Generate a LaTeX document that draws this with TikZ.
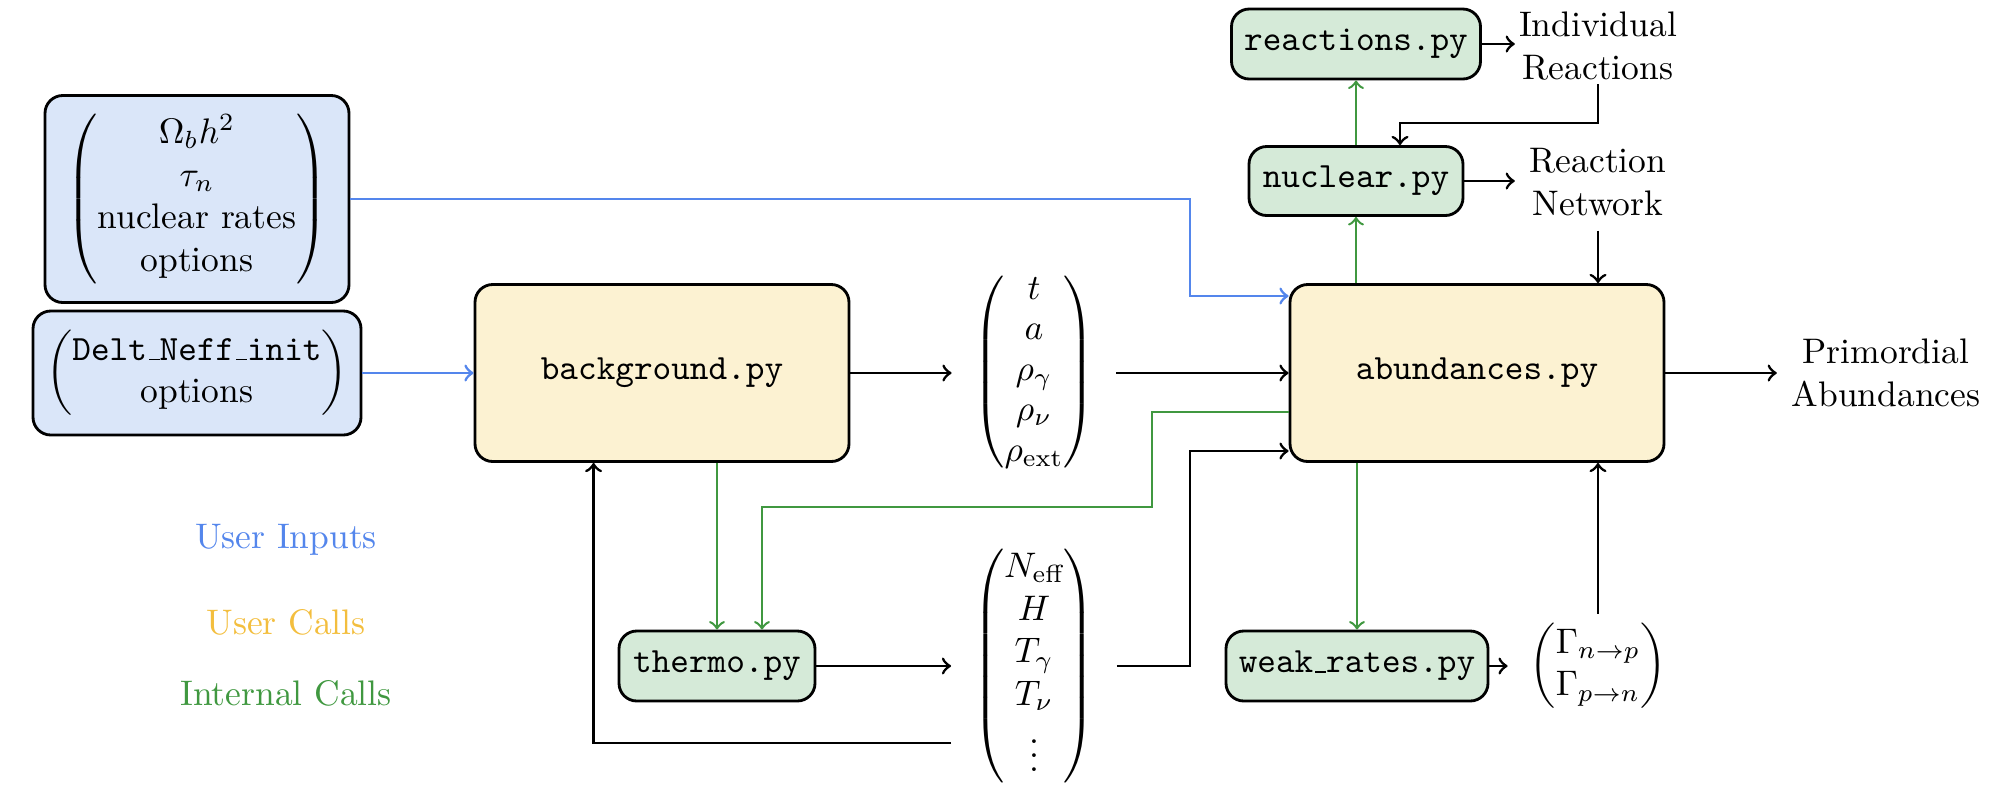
\documentclass[tikz,border=0pt]{standalone}
\usepackage{amsmath}
\usetikzlibrary{calc}
\definecolor{inblue}{RGB}{84,134,236}
\definecolor{infill}{RGB}{218,230,249}
\definecolor{callfill}{RGB}{252,242,210}
\definecolor{callorange}{RGB}{243,190,62}
\definecolor{intgreen}{RGB}{64,152,64}
\definecolor{intfill}{RGB}{213,234,216}
\def\pxu{0.2817pt}
\newcommand{\tus}{\kern.06em\vbox{\hrule width.3em}}
\begin{document}
\begin{tikzpicture}[x=\pxu,y=-\pxu,>=to,
  box/.style={draw=black, thick, rounded corners=5pt, align=center, inner sep=0pt},
  inbox/.style={box, fill=infill},
  callbox/.style={box, fill=callfill, font=\ttfamily},
  intbox/.style={box, fill=intfill, font=\ttfamily},
  vec/.style={inner sep=6pt},
  lbl/.style={align=center, inner sep=1pt},
  conn/.style={->, thick},
  bconn/.style={->, thick, draw=inblue},
  gconn/.style={->, line width=0.7pt, draw=intgreen}]
\useasboundingbox (0,0) rectangle (2008,790);

% input boxes
\node[inbox, minimum width=304*\pxu, minimum height=207*\pxu] (in1) at (197,199)
  {$\begin{pmatrix}\Omega_b h^2\\ \tau_n\\ \text{nuclear rates}\\ \text{options}\end{pmatrix}$};
\node[inbox, minimum width=328*\pxu, minimum height=124*\pxu] (in2) at (197,373)
  {$\begin{pmatrix}\texttt{Delt\tus Neff\tus init}\\ \text{options}\end{pmatrix}$};

% main calls
\node[callbox, minimum width=374*\pxu, minimum height=177*\pxu] (bg) at (662,373) {background.py};
\node[callbox, minimum width=374*\pxu, minimum height=177*\pxu] (ab) at (1477,373) {abundances.py};

% internal calls
\node[intbox, minimum width=196*\pxu, minimum height=70*\pxu] (th) at (717,666) {thermo.py};
\node[intbox, minimum width=262*\pxu, minimum height=70*\pxu] (wk) at (1357,666) {weak\tus rates.py};
\node[intbox, minimum width=214*\pxu, minimum height=69*\pxu] (nuc) at (1356,181) {nuclear.py};
\node[intbox, minimum width=249*\pxu, minimum height=70*\pxu] (rea) at (1356,44) {reactions.py};

% vectors
\node[vec] (v1) at (1034,372)
  {\renewcommand{\arraystretch}{0.95}$\begin{pmatrix} t\\ a\\ \rho_\gamma\\ \rho_\nu\\ \rho_{\text{ext}}\end{pmatrix}$};
\node[vec] (v2) at (1034,666)
  {$\begin{pmatrix} N_{\text{eff}}\\ H\\ T_\gamma\\ T_\nu\\ \vdots\end{pmatrix}$};
\node[inner xsep=6pt, inner ysep=2.5pt] (gam) at (1598,666)
  {$\begin{pmatrix}\Gamma_{n\to p}\\ \Gamma_{p\to n}\end{pmatrix}$};

% text outputs
\node[lbl] (ir) at (1598,46) {Individual\\Reactions};
\node[lbl, inner sep=4pt] (rn) at (1598,182) {Reaction\\Network};
\node[lbl, inner sep=4pt] (pa) at (1886,373) {Primordial\\Abundances};

% legend
\node[text=inblue] (l1) at (286,540) {User Inputs};
\node[text=callorange] (l2) at (286,622) {User Calls};
\node[text=intgreen] (l3) at (286,693) {Internal Calls};

% helper coordinates
\coordinate (abB) at ($(ab.west)+(0,-77)$);
\coordinate (abK) at ($(ab.west)+(0,78)$);
\coordinate (abG) at ($(ab.west)+(0,39)$);
\coordinate (bx) at (1190,296);
\coordinate (kx) at (1190,666);
\coordinate (gx) at (1152,507);
\coordinate (thG) at ($(th.north)+(45,0)$);
\coordinate (ret) at ($(v2.west)+(0,77)$);
\coordinate (bgR) at ($(bg.south west)+(120,0)$);
\coordinate (irb) at (1598,123);
\coordinate (nucI) at ($(nuc.north)+(44,0)$);

% blue connectors
\draw[bconn] (in1.east) -| (bx) -- (abB);
\draw[bconn] (in2.east) -- (bg.west);

% black connectors
\draw[conn] (bg.east) -- (bg.east -| v1.west);
\draw[conn] (bg.east -| v1.east) -- (ab.west);
\draw[conn] (th.east) -- (v2.west);
\draw[conn] (v2.east) -- (kx) |- (abK);
\draw[conn] (ret) -| (bgR);
\draw[conn] (ab.east) -- (ab.east -| pa.west);
\draw[conn] (wk.east) -- (gam.west);
\draw[conn] (gam.north) -- (gam.north |- ab.south);
\draw[conn] (rea.east) -- (rea.east -| ir.west);
\draw[conn] (nuc.east) -- (nuc.east -| rn.west);
\draw[conn] (rn.south) -- (rn.south |- ab.north);
\draw[conn] (ir.south) -- (irb) -| (nucI);

% green connectors
\draw[gconn] (bg.south -| th.north) -- (th.north);
\draw[gconn] (abG) -| (gx) -| (thG);
\draw[gconn] (ab.south -| wk.north) -- (wk.north);
\draw[gconn] (ab.north -| nuc.south) -- (nuc.south);
\draw[gconn] (nuc.north) -- (rea.south);
\end{tikzpicture}
\end{document}
